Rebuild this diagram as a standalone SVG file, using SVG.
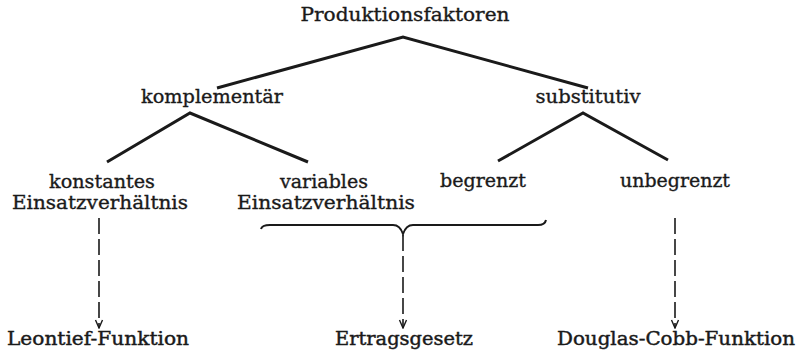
<svg xmlns="http://www.w3.org/2000/svg" width="800" height="355" viewBox="0 0 800 355">
<defs>
<style>
text{font-family:"DejaVu Serif","Liberation Serif",serif;font-size:19px;fill:#1a1a1a;stroke:#1a1a1a;stroke-width:0.35;text-anchor:middle}
.heavy{stroke-width:0.45}
.tree{stroke:#1a1a1a;stroke-width:3;fill:none;stroke-linecap:butt}
.dash{stroke:#1a1a1a;stroke-width:1.6;fill:none;stroke-dasharray:16 5}
.brace{stroke:#1a1a1a;stroke-width:2;fill:none}
</style>
<marker id="arr" viewBox="0 0 10 10" refX="9" refY="5" markerWidth="10" markerHeight="10" markerUnits="userSpaceOnUse" orient="auto">
<path d="M1,1.5 L9,5 L1,8.5" fill="none" stroke="#1a1a1a" stroke-width="1.4"/>
</marker>
</defs>
<rect width="800" height="355" fill="#fff"/>
<g id="connectors">
<path class="tree" d="M217,88 L403,37 L588,88"/>
<path class="tree" d="M107,162 L190,113 L308,162"/>
<path class="tree" d="M498,161 L583,113 L668,160"/>
<path class="brace" d="M261,229 Q262,225 270,225 L393,225 Q400,225 403,234 Q406,225 413,225 L538,225 Q545,225 546,220"/>
<path class="dash" d="M99,218 V328" marker-end="url(#arr)"/>
<path class="dash" d="M403,235 V328" marker-end="url(#arr)"/>
<path class="dash" d="M675,218 V328" marker-end="url(#arr)"/>
</g>
<g id="produktionsfaktoren"><text x="405" y="21" textLength="209" lengthAdjust="spacingAndGlyphs">Produktionsfaktoren</text></g>
<g id="komplementaer"><text x="212" y="103" textLength="142" lengthAdjust="spacingAndGlyphs">komplementär</text></g>
<g id="substitutiv"><text x="588" y="103" textLength="105" lengthAdjust="spacingAndGlyphs">substitutiv</text></g>
<g id="konstantes">
<text x="102" y="188" textLength="106" lengthAdjust="spacingAndGlyphs">konstantes</text>
<text x="100" y="209" textLength="176" lengthAdjust="spacingAndGlyphs">Einsatzverhältnis</text>
</g>
<g id="variables">
<text x="324" y="188" textLength="88" lengthAdjust="spacingAndGlyphs">variables</text>
<text x="326" y="209" textLength="178" lengthAdjust="spacingAndGlyphs">Einsatzverhältnis</text>
</g>
<g id="begrenzt"><text x="483" y="187" textLength="86" lengthAdjust="spacingAndGlyphs">begrenzt</text></g>
<g id="unbegrenzt"><text x="675" y="187" textLength="110" lengthAdjust="spacingAndGlyphs">unbegrenzt</text></g>
<g id="leontief"><text class="heavy" x="98" y="345" textLength="182" lengthAdjust="spacingAndGlyphs">Leontief-Funktion</text></g>
<g id="ertragsgesetz"><text class="heavy" x="404" y="345" textLength="138" lengthAdjust="spacingAndGlyphs">Ertragsgesetz</text></g>
<g id="douglas"><text class="heavy" x="676" y="345" textLength="238" lengthAdjust="spacingAndGlyphs">Douglas-Cobb-Funktion</text></g>
</svg>
